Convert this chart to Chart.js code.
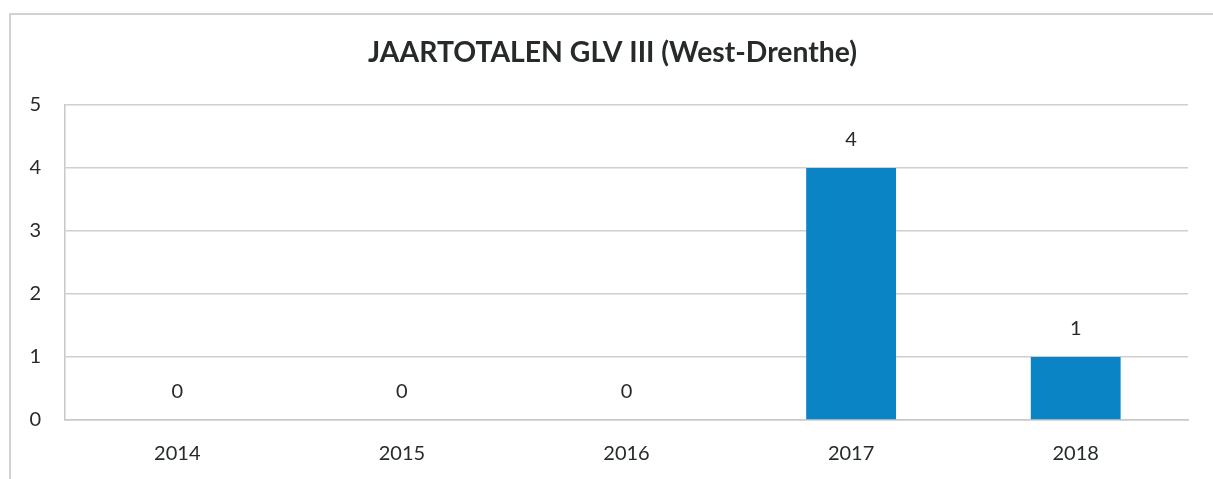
<!DOCTYPE html>
<html>
<head>
<meta charset="utf-8">
<script src="https://cdn.jsdelivr.net/npm/chart.js@4.4.1/dist/chart.umd.min.js"></script>
<style>
  html, body { margin: 0; padding: 0; background: #fff; }
  #wrap { position: relative; width: 1213px; height: 479px; }
</style>
</head>
<body>
<div id="wrap"><canvas id="myChart" width="1213" height="479"></canvas></div>
<script>
const years = ["2014", "2015", "2016", "2017", "2018"];
const totals = [0, 0, 0, 4, 1];
const yTicks = [0, 1, 2, 3, 4, 5];
const chartTitle = "JAARTOTALEN GLV III (West-Drenthe)";

const textColor = "#262b2a";
const fontFamily = "Lato, 'Open Sans', sans-serif";

// frame around the chart box + title, drawn straight on the canvas
const framePlugin = {
  id: "frame",
  beforeDraw(chart) {
    const ctx = chart.ctx;
    ctx.save();
    ctx.strokeStyle = "#c4c4c4";
    ctx.lineWidth = 1.5;
    ctx.beginPath();
    ctx.moveTo(10, chart.height);
    ctx.lineTo(10, 14);
    ctx.lineTo(chart.width, 14);
    ctx.stroke();
    ctx.restore();
  },
  afterDraw(chart) {
    const ctx = chart.ctx;
    ctx.save();
    ctx.font = "bold 28px " + fontFamily;
    ctx.fillStyle = textColor;
    ctx.textBaseline = "alphabetic";
    const w = ctx.measureText(chartTitle).width;
    const target = 489;
    ctx.translate(368, 62);
    ctx.scale(target / w, 1);
    ctx.fillText(chartTitle, 0, 0);
    ctx.restore();
  }
};

// value labels above each bar
const valueLabels = {
  id: "valueLabels",
  afterDatasetsDraw(chart) {
    const ctx = chart.ctx;
    const meta = chart.getDatasetMeta(0);
    ctx.save();
    ctx.font = "20px " + fontFamily;
    ctx.fillStyle = textColor;
    ctx.textAlign = "center";
    ctx.textBaseline = "middle";
    meta.data.forEach((bar, i) => {
      ctx.fillText(String(totals[i]), bar.x, bar.y - 28);
    });
    ctx.restore();
  }
};

new Chart(document.getElementById("myChart"), {
  type: "bar",
  data: {
    labels: years,
    datasets: [{
      data: totals,
      backgroundColor: "#0b84c5",
      borderWidth: 0,
      categoryPercentage: 1,
      barPercentage: 0.4
    }]
  },
  options: {
    responsive: false,
    animation: false,
    layout: { padding: { top: 105, right: 25, bottom: 0, left: 0 } },
    plugins: {
      legend: { display: false },
      tooltip: { enabled: false },
      title: { display: false }
    },
    scales: {
      x: {
        grid: { display: false, drawTicks: false },
        border: { color: "#c8c8c8", width: 1.5 },
        ticks: {
          color: textColor,
          font: { family: fontFamily, size: 20 },
          padding: 22
        },
        afterFit(scale) { scale.height = 59; }
      },
      y: {
        min: 0,
        max: 5,
        afterBuildTicks(scale) {
          scale.ticks = yTicks.map(v => ({ value: v }));
        },
        grid: { color: "#cfcfcf", lineWidth: 1.5, drawTicks: false },
        border: { color: "#c8c8c8", width: 1.5 },
        ticks: {
          color: textColor,
          font: { family: fontFamily, size: 20 },
          padding: 24
        },
        afterFit(scale) { scale.width = 65; }
      }
    }
  },
  plugins: [framePlugin, valueLabels]
});
</script>
</body>
</html>
